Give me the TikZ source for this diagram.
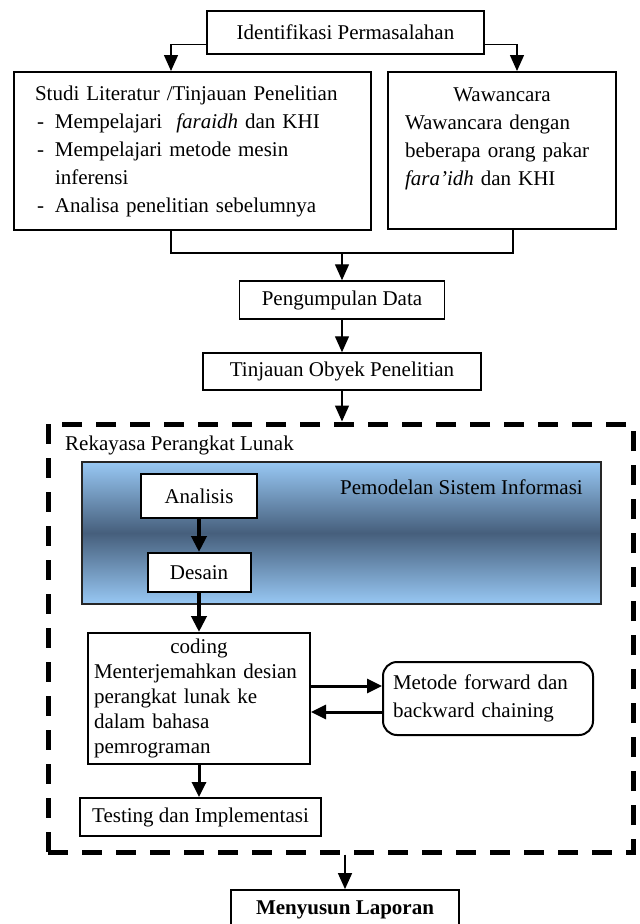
\documentclass[tikz,border=0pt]{standalone}
\usepackage{fontspec}
\setmainfont{Liberation Serif}
\usetikzlibrary{arrows.meta,calc}
\definecolor{skylight}{RGB}{152,200,244}
\definecolor{skydark}{RGB}{70,95,124}
\begin{document}
\begin{tikzpicture}[x=1pt,y=-1pt,
  every node/.style={font=\fontsize{21}{28}\selectfont, inner sep=0pt},
  plainbox/.style={draw, line width=1.5pt, fill=white},
  heavybox/.style={draw, line width=2pt, fill=white},
  thinarrow/.style={line width=1.4pt, -{Triangle[width=14pt,length=16pt]}},
  boldarrow/.style={line width=4pt, -{Triangle[width=15pt,length=16pt]}},
  midarrow/.style={line width=3pt, -{Triangle[width=14pt,length=15pt]}},
  phasebox/.style={draw, line width=5pt, dash pattern=on 20pt off 14pt},
]
\useasboundingbox (0,0) rectangle (640,924);
\clip (0,0) rectangle (640,924);

% outer phase: software engineering
\node[phasebox, minimum width=585pt, minimum height=428pt] (rpl) at (340.5,638) {};
\node[anchor=west] (rpltitle) at (65,445) {Rekayasa Perangkat Lunak};

% shaded modelling panel
\node[draw=black!85, line width=1.6pt, top color=skylight, bottom color=skylight,
      middle color=skydark, minimum width=519pt, minimum height=142pt] (psi) at (341.5,533) {};
\node[anchor=east] (psititle) at (583,487) {Pemodelan Sistem Informasi};

% upper part of the flow
\node[plainbox, minimum width=277pt, minimum height=43pt] (ident) at (345.5,32.5) {Identifikasi Permasalahan};

\node[heavybox, minimum width=357pt, minimum height=158pt, text width=315pt,
      inner xsep=21pt, align=left] (lit) at (192.5,151)
  {Studi Literatur /Tinjauan Penelitian\\
   \makebox[20pt][l]{\hspace{2pt}-}Mempelajari\ \ \textit{faraidh} dan KHI\\
   \makebox[20pt][l]{\hspace{2pt}-}Mempelajari metode mesin\\
   \hspace*{20pt}inferensi\\
   \makebox[20pt][l]{\hspace{2pt}-}Analisa penelitian sebelumnya};

\node[heavybox, minimum width=228pt, minimum height=157pt, text width=194pt,
      inner xsep=17pt, align=left] (waw) at (502,150.5)
  {\makebox[194pt]{Wawancara}\\
   Wawancara dengan\\
   beberapa orang pakar\\
   \textit{fara'idh} dan KHI\\
   \mbox{}};

\coordinate (join) at (342,253);

\node[plainbox, minimum width=205pt, minimum height=38pt] (peng) at (342,300) {Pengumpulan Data};
\node[plainbox, minimum width=278pt, minimum height=37pt] (tinj) at (342,371.5) {Tinjauan Obyek Penelitian};

% inner boxes
\node[heavybox, minimum width=116pt, minimum height=44pt] (analisis) at (199,496) {Analisis};
\node[heavybox, minimum width=103pt, minimum height=39pt] (desain) at (199,572.5) {Desain};

\node[heavybox, minimum width=222pt, minimum height=131pt, text width=210pt,
      inner xsep=6pt, align=left, font=\fontsize{21}{25}\selectfont] (coding) at (199,698.5)
  {\makebox[210pt]{coding}\\
   Menterjemahkan desian\\
   perangkat lunak ke\\
   dalam bahasa\\
   pemrograman};

\node[heavybox, rounded corners=14pt, minimum width=210pt, minimum height=73pt,
      text width=190pt, inner xsep=10pt, align=left] (metode) at (488,698.5)
  {Metode forward dan\\
   backward chaining};

\node[heavybox, line width=1.8pt, minimum width=241pt, minimum height=38pt] (testing) at (200.5,817) {Testing dan Implementasi};

\node[heavybox, line width=1.8pt, minimum width=228pt, minimum height=40pt,
      font=\fontsize{21}{28}\selectfont\bfseries] (lapor) at (345,910) {Menyusun Laporan};

% connectors
\draw[thinarrow] ([yshift=10pt]ident.south west) -| ([xshift=-21.5pt]lit.north);
\draw[thinarrow] ([yshift=10pt]ident.south east) -| ([xshift=15pt]waw.north);
\draw[line width=1.4pt] ([xshift=-21.5pt]lit.south) |- (join) -| ([xshift=11pt]waw.south);
\draw[thinarrow] (join) -- (join |- peng.north);
\draw[thinarrow] (peng.south) -- (tinj.north);
\draw[thinarrow] (tinj.south) -- (tinj.south |- rpl.north);

\draw[boldarrow] (analisis.south) -- (desain.north);
\draw[boldarrow] (desain.south) -- (coding.north);
\draw[midarrow] ([yshift=12.5pt]coding.east) -- ([yshift=12.5pt]coding.east -| metode.west);
\draw[midarrow] ([yshift=-13.5pt]coding.east -| metode.west) -- ([yshift=-13.5pt]coding.east);
\draw[midarrow] (coding.south) -- (coding.south |- testing.north);

\draw[thinarrow] (lapor.north |- rpl.south) -- (lapor.north);
\end{tikzpicture}
\end{document}
